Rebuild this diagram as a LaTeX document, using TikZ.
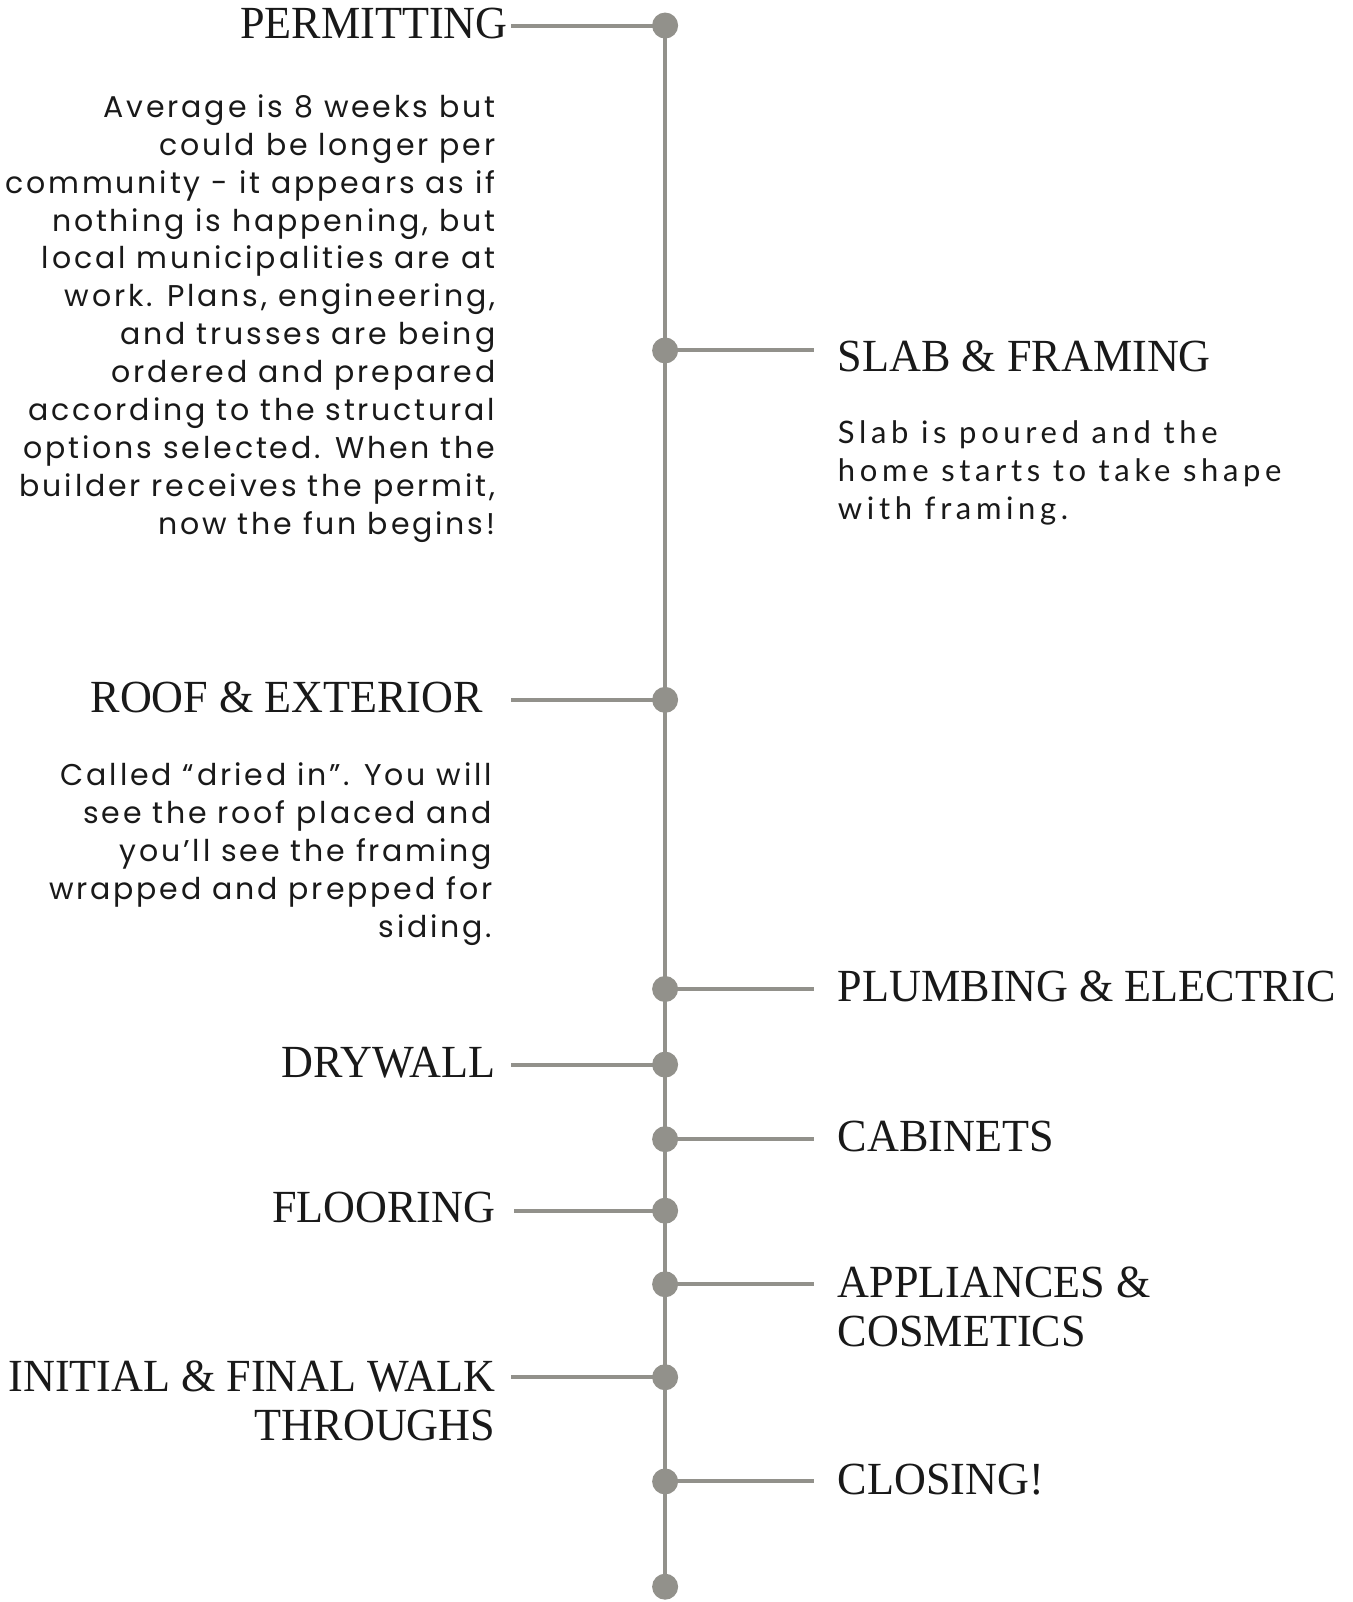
\documentclass[tikz,border=0pt]{standalone}
\usepackage{fontspec}
\setmainfont{Liberation Serif}
\newfontfamily\headfont[FakeStretch=0.96]{Liberation Serif}
\newfontfamily\bodyfont[LetterSpace=9.5]{Poppins}
\newfontfamily\slabfont[LetterSpace=15]{Lato}
\definecolor{spine}{RGB}{146,145,139}
\definecolor{ink}{RGB}{25,25,25}

\begin{document}
\begin{tikzpicture}[x=1.0219pt, y=-1.0219pt,
        dot/.style={circle, fill=spine, minimum size=26pt, inner sep=0},
        link/.style={draw=spine, line width=4pt},
        heading/.style={font=\headfont\fontsize{46}{49}\selectfont, text=ink, inner sep=0},
        desc/.style={font=\bodyfont\fontsize{30}{38}\selectfont, text=ink, inner sep=0, align=right},
        slabdesc/.style={font=\slabfont\fontsize{31}{38}\selectfont, text=ink, inner sep=0, align=left},
    ]
        \useasboundingbox (0,0) rectangle (1324,1568);

        % Stage positions on the spine
        \coordinate (p1) at (651,25);
        \coordinate (p2) at (651,343);
        \coordinate (p3) at (651,685);
        \coordinate (p4) at (651,968);
        \coordinate (p5) at (651,1042);
        \coordinate (p6) at (651,1115);
        \coordinate (p7) at (651,1185);
        \coordinate (p8) at (651,1257);
        \coordinate (p9) at (651,1348);
        \coordinate (p10) at (651,1450);
        \coordinate (p11) at (651,1553);

        % Free ends of the connectors
        \coordinate (e1) at (500,25);
        \coordinate (e2) at (797,343);
        \coordinate (e3) at (500,685);
        \coordinate (e4) at (797,968);
        \coordinate (e5) at (500,1042);
        \coordinate (e6) at (797,1115);
        \coordinate (e7) at (503,1185);
        \coordinate (e8) at (797,1257);
        \coordinate (e9) at (500,1348);
        \coordinate (e10) at (797,1450);

        % Spine and connectors (behind the dots)
        \draw[link] (p1) -- (p11);
        \foreach \i in {1,...,10}
            \draw[link] (p\i) -- (e\i);

        % Dots
        \foreach \i in {1,...,11}
            \node[dot] (d\i) at (p\i) {};

        % Left side headings
        \node[heading, anchor=north east] (permit) at (497,8) {PERMITTING};
        \node[heading, anchor=north east] (roof) at (473,667) {ROOF \& EXTERIOR};
        \node[heading, anchor=north east] (dry) at (485,1025) {DRYWALL};
        \node[heading, anchor=north east] (floor) at (485,1167) {FLOORING};
        \node[heading, anchor=north east, align=right] (walk) at (485,1332) {INITIAL \& FINAL WALK\\THROUGHS};

        % Right side headings
        \node[heading, anchor=north west] (slab) at (820,333) {SLAB \& FRAMING};
        \node[heading, anchor=north west] (plumb) at (820,950) {PLUMBING \& ELECTRIC};
        \node[heading, anchor=north west] (cab) at (820,1097) {CABINETS};
        \node[heading, anchor=north west, align=left] (appl) at (820,1240) {APPLIANCES \&\\COSMETICS};
        \node[heading, anchor=north west] (close) at (820,1433) {CLOSING!};

        % Descriptions
        \node[desc, anchor=north east] (permit-txt) at (485,92) {Average is 8 weeks but\\could be longer per\\community - it appears as if\\nothing is happening, but\\local municipalities are at\\work. Plans, engineering,\\and trusses are being\\ordered and prepared\\according to the structural\\options selected. When the\\builder receives the permit,\\now the fun begins!};
        \node[desc, anchor=north east] (roof-txt) at (482,746) {Called “dried in”. You will\\see the roof placed and\\you’ll see the framing\\wrapped and prepped for\\siding.};
        \node[slabdesc, anchor=north west] (slab-txt) at (820,412) {Slab is poured and the\\home starts to take shape\\with framing.};
    \end{tikzpicture}
\end{document}
